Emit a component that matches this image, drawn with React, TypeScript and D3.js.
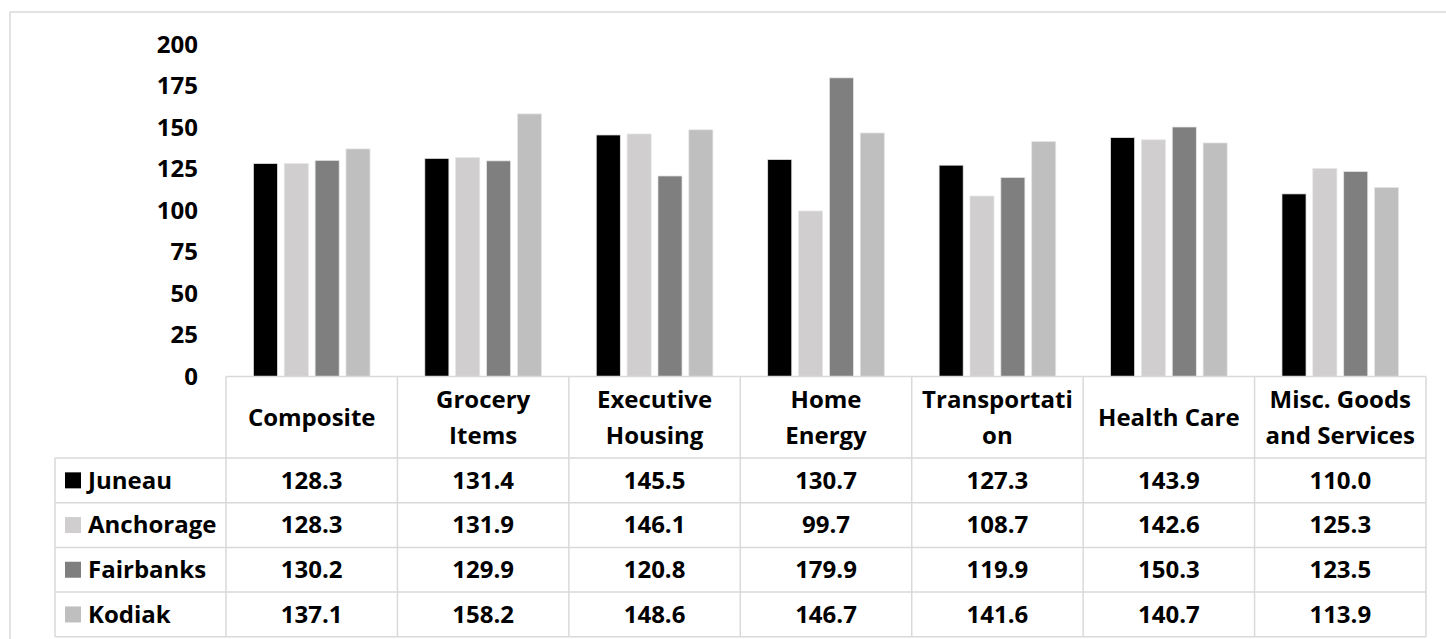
import React from "react";
import * as d3 from "d3";

const categories = [
  ["Composite"],
  ["Grocery", "Items"],
  ["Executive", "Housing"],
  ["Home", "Energy"],
  ["Transportati", "on"],
  ["Health Care"],
  ["Misc. Goods", "and Services"],
];
const seriesNames = ["Juneau", "Anchorage", "Fairbanks", "Kodiak"];
const juneau = [128.3, 131.4, 145.5, 130.7, 127.3, 143.9, 110.0];
const anchorage = [128.3, 131.9, 146.1, 99.7, 108.7, 142.6, 125.3];
const fairbanks = [130.2, 129.9, 120.8, 179.9, 119.9, 150.3, 123.5];
const kodiak = [137.1, 158.2, 148.6, 146.7, 141.6, 140.7, 113.9];
const seriesValues = [juneau, anchorage, fairbanks, kodiak];
const colors = ["#000000", "#d0cece", "#7f7f7f", "#bfbfbf"];
const yTicks = [0, 25, 50, 75, 100, 125, 150, 175, 200];

const W = 1446;
const H = 639;
const FONT = "'Open Sans', Carlito, Calibri, sans-serif";
const GRID = "#d9d9d9";
const FS = 24;

export default function App() {
  const tableLeft = 226;
  const tableRight = 1426;
  const legendLeft = 55;
  const y0 = 376.5;
  const headerBottom = 458;
  const rowH = 44.7;

  const catKeys = categories.map((c) => c.join(" "));
  const x = d3.scaleBand<string>().domain(catKeys).range([tableLeft, tableRight]).padding(0);
  const x1 = d3
    .scaleBand<string>()
    .domain(seriesNames)
    .range([24, x.bandwidth() - 24])
    .paddingInner(0.22)
    .paddingOuter(0.11);
  const y = d3.scaleLinear().domain([0, 200]).range([y0, 44.5]);

  const rowYs = seriesNames.map((_, i) => headerBottom + i * rowH);
  const tableBottom = headerBottom + seriesNames.length * rowH;

  return (
    <svg
      width={W}
      height={H}
      style={{ position: "absolute", left: 0, top: 0, background: "#fff" }}
      fontFamily={FONT}
      fontWeight={700}
    >
      <rect x={0} y={0} width={W} height={H} fill="#fff" />
      {/* outer frame */}
      <line x1={10} y1={12} x2={W} y2={12} stroke={GRID} strokeWidth={1.5} />
      <line x1={10} y1={12} x2={10} y2={H} stroke={GRID} strokeWidth={1.5} />

      {/* y axis labels */}
      {yTicks.map((t) => (
        <text key={t} x={198} y={y(t)} dy="0.35em" textAnchor="end" fontSize={FS} fill="#000">
          {t}
        </text>
      ))}

      {/* bars */}
      {catKeys.map((ck, ci) => (
        <g key={ck} transform={`translate(${x(ck)},0)`}>
          {seriesNames.map((s, si) => {
            const v = seriesValues[si][ci];
            return (
              <rect
                key={s}
                x={x1(s)}
                y={y(v)}
                width={x1.bandwidth()}
                height={y0 - y(v)}
                fill={colors[si]}
                stroke="#e6e6e6"
                strokeWidth={0.75}
              />
            );
          })}
        </g>
      ))}

      {/* table grid */}
      <line x1={tableLeft} y1={y0} x2={tableRight} y2={y0} stroke={GRID} strokeWidth={1.5} />
      {rowYs.concat([tableBottom]).map((ry, i) => (
        <line key={i} x1={legendLeft} y1={ry} x2={tableRight} y2={ry} stroke={GRID} strokeWidth={1.5} />
      ))}
      <line x1={legendLeft} y1={headerBottom} x2={legendLeft} y2={tableBottom} stroke={GRID} strokeWidth={1.5} />
      {catKeys.map((ck) => (
        <line key={ck} x1={x(ck)} y1={y0} x2={x(ck)} y2={tableBottom} stroke={GRID} strokeWidth={1.5} />
      ))}
      <line x1={tableRight} y1={y0} x2={tableRight} y2={tableBottom} stroke={GRID} strokeWidth={1.5} />

      {/* header labels */}
      {categories.map((lines, ci) => {
        const cx = (x(catKeys[ci]) as number) + x.bandwidth() / 2;
        const cy = (y0 + headerBottom) / 2;
        const lh = 36;
        return (
          <text key={ci} x={cx} textAnchor="middle" fontSize={FS} fill="#000">
            {lines.map((l, li) => (
              <tspan key={li} x={cx} y={cy + (li - (lines.length - 1) / 2) * lh} dy="0.35em">
                {l}
              </tspan>
            ))}
          </text>
        );
      })}

      {/* rows */}
      {seriesNames.map((s, si) => {
        const cy = rowYs[si] + rowH / 2;
        return (
          <g key={s}>
            <rect x={65} y={cy - 8} width={16} height={16} fill={colors[si]} />
            <text x={88} y={cy} dy="0.35em" fontSize={FS} fill="#000">
              {s}
            </text>
            {catKeys.map((ck, ci) => (
              <text
                key={ck}
                x={(x(ck) as number) + x.bandwidth() / 2}
                y={cy}
                dy="0.35em"
                textAnchor="middle"
                fontSize={FS}
                fill="#000"
              >
                {seriesValues[si][ci].toFixed(1)}
              </text>
            ))}
          </g>
        );
      })}
    </svg>
  );
}
